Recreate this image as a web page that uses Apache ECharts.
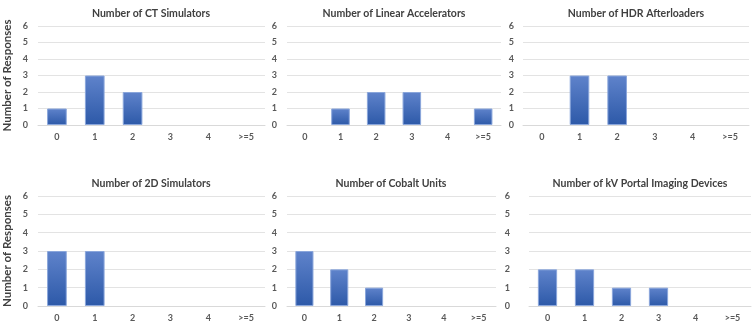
<!DOCTYPE html>
<html>
<head>
<meta charset="utf-8">
<script src="https://cdn.jsdelivr.net/npm/echarts@6/dist/echarts.min.js"></script>
<style>
html,body{margin:0;padding:0;background:#fff;}
#chart{width:754px;height:324px;}
</style>
</head>
<body>
<div id="chart"></div>
<script>
const categories = ['0', '1', '2', '3', '4', '>=5'];
const yTicks = [0, 1, 2, 3, 4, 5, 6];
const titles = [
  'Number of CT Simulators',
  'Number of Linear Accelerators',
  'Number of HDR Afterloaders',
  'Number of 2D Simulators',
  'Number of Cobalt Units',
  'Number of kV Portal Imaging Devices'
];
const ctSimulators = [1, 3, 2, 0, 0, 0];
const linearAccelerators = [0, 1, 2, 2, 0, 1];
const hdrAfterloaders = [0, 3, 3, 0, 0, 0];
const sim2D = [3, 3, 0, 0, 0, 0];
const cobaltUnits = [3, 2, 1, 0, 0, 0];
const kvPortal = [2, 2, 1, 1, 0, 0];
const yAxisTitle = 'Number of Responses';

const seriesData = [ctSimulators, linearAccelerators, hdrAfterloaders, sim2D, cobaltUnits, kvPortal];

const grids = [
  {left: 38, top: 26, width: 227, height: 99},
  {left: 287, top: 26, width: 214, height: 99},
  {left: 523, top: 26, width: 226, height: 99},
  {left: 38, top: 196, width: 227, height: 110},
  {left: 287, top: 196, width: 209, height: 110},
  {left: 529, top: 196, width: 222, height: 110}
];
const titleCenters = [
  {x: 146, y: 3}, {x: 389, y: 3}, {x: 631, y: 3},
  {x: 146, y: 173}, {x: 386, y: 173}, {x: 635, y: 173}
];
const yLabelMargins = [10, 10, 9, 10, 10, 19];

const FONT = 'Lato, "Liberation Sans", sans-serif';
const chart = echarts.init(document.getElementById('chart'), null, {renderer: 'canvas'});

const option = {
  backgroundColor: '#fff',
  animation: false,
  title: titles.map((t, i) => ({
    text: t,
    left: titleCenters[i].x,
    top: titleCenters[i].y,
    textAlign: 'center',
    textStyle: {fontFamily: FONT, fontSize: 10.5, fontWeight: 'bold', color: '#404040'}
  })),
  grid: grids.map(g => Object.assign({containLabel: false}, g)),
  xAxis: grids.map((g, i) => ({
    type: 'category',
    gridIndex: i,
    data: categories,
    axisLine: {show: true, lineStyle: {color: '#d9d9d9', width: 1}},
    axisTick: {show: false},
    axisLabel: {fontFamily: FONT, fontSize: 9, fontWeight: 'bold', color: '#595959', margin: 8}
  })),
  yAxis: grids.map((g, i) => ({
    type: 'value',
    gridIndex: i,
    min: yTicks[0],
    max: yTicks[yTicks.length - 1],
    interval: 1,
    name: (i === 0 || i === 3) ? yAxisTitle : '',
    nameLocation: 'middle',
    nameGap: 25,
    nameTextStyle: {fontFamily: FONT, fontSize: 11.5, fontWeight: 'bold', color: '#404040'},
    axisLine: {show: false},
    axisTick: {show: false},
    splitLine: {show: true, lineStyle: {color: '#e3e3e3', width: 1}},
    axisLabel: {fontFamily: FONT, fontSize: 9, fontWeight: 'bold', color: '#595959', margin: yLabelMargins[i]}
  })),
  series: seriesData.map((d, i) => ({
    type: 'bar',
    xAxisIndex: i,
    yAxisIndex: i,
    data: d.map(v => v === 0 ? '-' : v),
    barWidth: '52%',
    itemStyle: {
      color: new echarts.graphic.LinearGradient(0, 0, 0, 1, [
        {offset: 0, color: '#5f83cb'},
        {offset: 1, color: '#2d59a8'}
      ]),
      borderColor: '#8aa6db',
      borderWidth: 1
    }
  }))
};
chart.setOption(option);
</script>
</body>
</html>
